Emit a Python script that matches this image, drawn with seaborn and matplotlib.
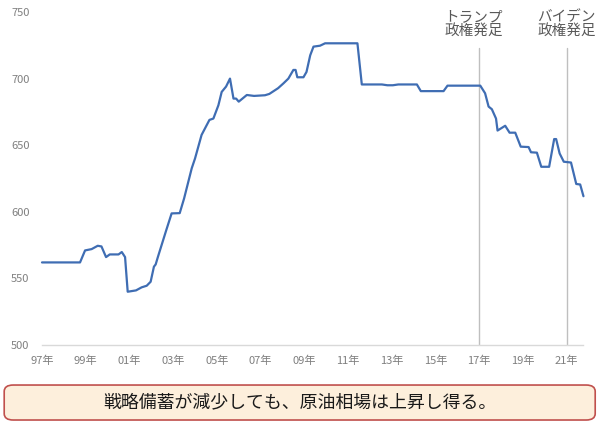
import matplotlib
matplotlib.use('Agg')
import matplotlib.pyplot as plt
from matplotlib.patches import FancyBboxPatch
import seaborn as sns
import pandas as pd

# US strategic petroleum reserve (million barrels)
years = [1997.0, 1998.74, 1998.97, 1999.27, 1999.55, 1999.72, 1999.93, 2000.1, 2000.5,
         2000.65, 2000.8, 2000.92, 2001.3, 2001.56, 2001.79, 2001.97, 2002.12, 2002.2,
         2002.3, 2002.68, 2002.93, 2003.3, 2003.5, 2003.85, 2004.0, 2004.3, 2004.66,
         2004.84, 2005.07, 2005.22, 2005.42, 2005.6, 2005.76, 2005.88, 2006.0, 2006.37,
         2006.7, 2007.2, 2007.4, 2007.8, 2008.05, 2008.27, 2008.5, 2008.6, 2008.68,
         2008.96, 2009.1, 2009.27, 2009.42, 2009.72, 2009.95, 2011.43, 2011.63, 2012.55,
         2012.8, 2013.05, 2013.3, 2014.15, 2014.33, 2015.37, 2015.55, 2017.05, 2017.27,
         2017.43, 2017.58, 2017.77, 2017.84, 2018.19, 2018.39, 2018.65, 2018.9, 2019.26,
         2019.37, 2019.64, 2019.84, 2020.2, 2020.43, 2020.52, 2020.68, 2020.87, 2021.2,
         2021.44, 2021.62, 2021.77]
values = [562, 562, 571, 572, 574.5, 574, 566, 568, 568,
          569.8, 566, 540, 541, 543.3, 544.5, 547.5, 558.8, 560.5,
          566, 586, 598.8, 599, 610, 632.7, 640, 657.7, 669,
          670, 680, 690, 694, 700, 685, 685, 682.7, 687.7,
          687, 687.5, 688.5, 692.8, 696.5, 700, 706.5, 706.5, 701,
          701, 705, 717.5, 724, 724.7, 726.5, 726.5, 695.6, 695.6,
          695, 695, 695.6, 695.6, 690.6, 690.6, 694.7, 694.7, 689,
          679, 677, 670, 661, 664.6, 659.4, 659.4, 648.9, 648.6,
          644.7, 644.4, 633.8, 633.8, 654.6, 654.6, 643.8, 637.6, 637,
          620.9, 620.5, 611.7]

tick_years = list(range(1997, 2022, 2))
tick_labels = [f"{y % 100:02d}年" for y in tick_years]

events = [2017.0, 2021.0]
event_labels = ["トランプ\n政権発足", "バイデン\n政権発足"]
event_text_x = [2016.75, 2021.0]

summary = "戦略備蓄が減少しても、原油相場は上昇し得る。"

df = pd.DataFrame({'year': years, 'value': values})

sns.set_style('white')
plt.rcParams['font.family'] = ['Noto Sans CJK JP', 'DejaVu Sans']

fig = plt.figure(figsize=(6, 4.24), dpi=100)
ax = fig.add_axes([0.07, 0.1863, 0.9017, 0.7854])

sns.lineplot(data=df, x='year', y='value', ax=ax, color='#3f6db3', linewidth=1.6)
for ln in ax.lines:
    ln.set_clip_on(False)

for x, lab, tx in zip(events, event_labels, event_text_x):
    ax.plot([x, x], [500, 723], color='#bfbfbf', linewidth=1, zorder=1)
    ax.text(tx, 741, lab, ha='center', va='center', fontsize=10.5,
            color='#595959', linespacing=1.0)

ax.set_xlim(1997, 2021.75)
ax.set_ylim(500, 750)
ax.set_yticks(range(500, 751, 50))
ax.set_xticks(tick_years)
ax.set_xticklabels(tick_labels)
ax.set_xlabel('')
ax.set_ylabel('')
ax.tick_params(axis='y', length=0, labelsize=8, labelcolor='#7f7f7f', pad=9)
ax.tick_params(axis='x', direction='in', length=4, color='#d9d9d9',
               labelsize=8, labelcolor='#7f7f7f', pad=8)
for s in ['left', 'right', 'top']:
    ax.spines[s].set_visible(False)
ax.spines['bottom'].set_color('#d9d9d9')
ax.spines['bottom'].set_linewidth(1)

box = FancyBboxPatch((0.007, 0.0094), 0.985, 0.0825,
                     boxstyle='round,pad=0,rounding_size=0.015',
                     transform=fig.transFigure, facecolor='#fdefdc',
                     edgecolor='#c0504d', linewidth=1.2)
fig.patches.append(box)
fig.text(0.5, 0.05, summary, ha='center', va='center', fontsize=12.9, color='#1a1a1a')

fig.savefig('out.png', dpi=100)
